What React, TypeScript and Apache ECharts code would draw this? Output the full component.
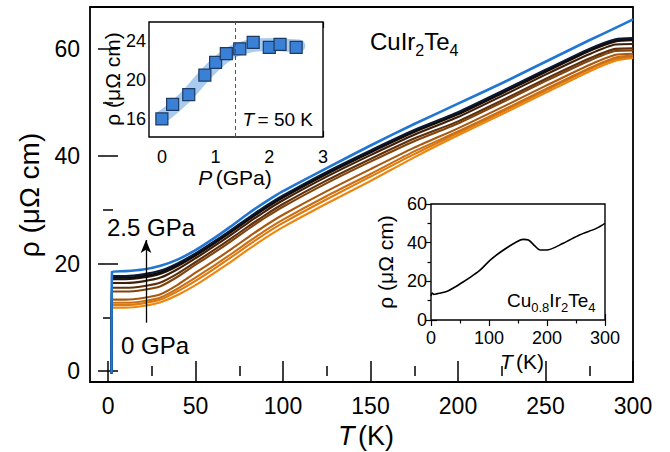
import React, { useEffect, useRef } from 'react';
import * as echarts from 'echarts';

const FONT = '"Liberation Sans", Arial, Helvetica, sans-serif';

// ---------- Main panel: rho(T) of CuIr2Te4 under pressure ----------
const T_MAIN = [2.3, 10, 20, 30, 40, 50, 60, 70, 80, 90, 100, 125, 150, 175, 200, 225, 250, 275, 290, 300];
const SC_T = 2.0;      // superconducting drop temperature (K)
const SC_RHO = -0.4;   // resistivity below Tc
const PRESSURES = ['0', '0.2', '0.5', '0.8', '1.0', '1.2', '1.45', '1.7', '2.0', '2.2', '2.5'];
const RHO_P00 = [11.8, 11.8, 12.1, 12.8, 14.2, 16.0, 18.1, 20.3, 22.6, 24.8, 26.8, 31.2, 35.4, 39.8, 43.9, 47.8, 51.8, 55.8, 57.8, 58.3];
const RHO_P02 = [12.3, 12.3, 12.6, 13.3, 14.9, 16.8, 18.9, 21.1, 23.4, 25.6, 27.6, 32.0, 36.2, 40.4, 44.3, 48.2, 52.2, 56.2, 58.1, 58.5];
const RHO_P05 = [12.7, 12.7, 13.0, 13.7, 15.4, 17.4, 19.5, 21.7, 24.0, 26.2, 28.2, 32.6, 36.7, 40.9, 44.6, 48.5, 52.5, 56.4, 58.4, 58.7];
const RHO_P08 = [13.3, 13.3, 13.6, 14.3, 16.1, 18.3, 20.4, 22.6, 24.9, 27.1, 29.1, 33.5, 37.6, 41.6, 45.2, 49.1, 53.1, 57.0, 58.9, 59.1];
const RHO_P10 = [14.8, 14.8, 15.1, 15.8, 17.6, 19.8, 21.9, 24.1, 26.4, 28.6, 30.6, 35.0, 39.0, 42.8, 46.1, 50.0, 54.0, 57.8, 59.6, 59.7];
const RHO_P12 = [15.5, 15.5, 15.8, 16.5, 18.2, 20.3, 22.4, 24.6, 26.9, 29.1, 31.1, 35.5, 39.5, 43.3, 46.5, 50.4, 54.4, 58.2, 60.0, 60.1];
const RHO_P145 = [16.4, 16.4, 16.7, 17.4, 19.0, 21.0, 23.1, 25.3, 27.6, 29.8, 31.8, 36.2, 40.2, 44.0, 47.3, 51.2, 55.2, 59.0, 60.8, 60.9];
const RHO_P17 = [17.1, 17.1, 17.4, 18.1, 19.6, 21.5, 23.6, 25.8, 28.1, 30.3, 32.3, 36.7, 40.7, 44.5, 47.8, 51.7, 55.7, 59.6, 61.4, 61.6];
const RHO_P20 = [17.4, 17.4, 17.7, 18.4, 19.9, 21.7, 23.8, 26.0, 28.3, 30.5, 32.5, 36.9, 40.9, 44.7, 48.0, 51.9, 55.9, 59.8, 61.6, 61.8];
const RHO_P22 = [17.7, 17.7, 18.0, 18.7, 20.1, 21.9, 24.0, 26.2, 28.5, 30.7, 32.7, 37.1, 41.1, 44.9, 48.2, 52.1, 56.1, 60.0, 61.8, 62.0];
const RHO_P25 = [18.5, 18.6, 18.9, 19.6, 20.8, 22.5, 24.6, 26.9, 29.3, 31.5, 33.5, 37.8, 42.0, 46.0, 49.8, 53.6, 57.6, 61.6, 63.9, 65.5];
const MAIN_SERIES = [RHO_P00, RHO_P02, RHO_P05, RHO_P08, RHO_P10, RHO_P12, RHO_P145, RHO_P17, RHO_P20, RHO_P22, RHO_P25];

const MAIN_X_TICKS = [0, 50, 100, 150, 200, 250, 300];
const MAIN_X_MINOR = [25, 75, 125, 175, 225, 275];
const MAIN_Y_TICKS = [0, 20, 40, 60];
const MAIN_Y_MINOR = [10, 30, 50];

// arrow "0 GPa -> 2.5 GPa"
const ARROW_T = 21.7;
const ARROW_FROM = 9.0;
const ARROW_TO = 24.4;

// ---------- Inset 1: rho(50 K) vs P ----------
const P_GPA = [0, 0.2, 0.5, 0.8, 1.0, 1.2, 1.45, 1.7, 2.0, 2.2, 2.5];
const RHO_50K = [16.0, 17.5, 18.5, 20.5, 21.8, 22.7, 23.2, 23.85, 23.35, 23.65, 23.35];
const BAND_P = [0, 0.25, 0.5, 0.75, 1.0, 1.25, 1.5, 1.75, 2.0, 2.25, 2.55];
const BAND_RHO = [16.2, 17.3, 18.6, 20.2, 21.6, 22.7, 23.3, 23.6, 23.65, 23.6, 23.5];
const P_CRIT = 1.37;
const IN1_X_TICKS = [0, 1, 2, 3];
const IN1_X_MINOR = [0.5, 1.5, 2.5];
const IN1_Y_TICKS = [16, 20, 24];
const IN1_Y_MINOR = [18, 22];

// ---------- Inset 2: Cu0.8Ir2Te4 ----------
const T_CU = [0, 2, 5, 10, 27, 40, 56, 70, 85, 102, 125, 148, 159, 168, 179, 188, 199, 228, 256, 285, 300];
const RHO_CU = [12.5, 14.0, 13.2, 13.5, 14.7, 16.8, 19.8, 22.6, 25.9, 31.0, 36.2, 40.5, 41.7, 41.4, 38.3, 36.2, 36.2, 39.7, 44.0, 47.4, 50.0];
const IN2_X_TICKS = [0, 100, 200, 300];
const IN2_X_MINOR = [50, 150, 250];
const IN2_Y_TICKS = [0, 20, 40, 60];
const IN2_Y_MINOR = [10, 30, 50];

// styles
const CURVE_COLORS = ['#ec860f', '#dc7b10', '#c96e12', '#a8580f', '#82440d', '#60300a', '#3f1f07', '#221106', '#0d0a0a', '#0b1830', '#2176d2'];

function axis(
  grid: number, min: number, max: number, position: string, values: number[], len: number, w: number,
  label?: { fontSize: number; margin: number }
) {
  return {
    type: 'value', gridIndex: grid, min, max, position,
    axisLine: { show: false }, splitLine: { show: false },
    axisTick: { show: true, inside: true, length: len, customValues: values, lineStyle: { color: '#000', width: w } },
    axisLabel: label
      ? { show: true, customValues: values, fontSize: label.fontSize, fontFamily: FONT, color: '#000', margin: label.margin }
      : { show: false },
  };
}

function buildOption() {
  const mainX = { min: -10.3, max: 300 };
  const mainY = { min: -2.05, max: 67.8 };
  const in1X = { min: -0.24, max: 3 };
  const in1Y = { min: 14.15, max: 25.95 };
  const in2X = { min: 0, max: 300 };
  const in2Y = { min: 0, max: 60 };

  const xAxis = [
    axis(0, mainX.min, mainX.max, 'bottom', MAIN_X_TICKS, 10, 1.5, { fontSize: 23, margin: 12 }),
    axis(0, mainX.min, mainX.max, 'bottom', MAIN_X_MINOR, 5, 1.5),
    axis(0, mainX.min, mainX.max, 'top', MAIN_X_TICKS, 10, 1.5),
    axis(0, mainX.min, mainX.max, 'top', MAIN_X_MINOR, 5, 1.5),
    axis(1, in1X.min, in1X.max, 'bottom', IN1_X_TICKS, 6, 1.2, { fontSize: 18, margin: 11 }),
    axis(1, in1X.min, in1X.max, 'bottom', IN1_X_MINOR, 3.5, 1.2),
    axis(1, in1X.min, in1X.max, 'top', IN1_X_TICKS, 6, 1.2),
    axis(1, in1X.min, in1X.max, 'top', IN1_X_MINOR, 3.5, 1.2),
    axis(2, in2X.min, in2X.max, 'bottom', IN2_X_TICKS, 6, 1.2, { fontSize: 18, margin: 9 }),
    axis(2, in2X.min, in2X.max, 'bottom', IN2_X_MINOR, 3.5, 1.2),
    axis(2, in2X.min, in2X.max, 'top', IN2_X_TICKS, 6, 1.2),
    axis(2, in2X.min, in2X.max, 'top', IN2_X_MINOR, 3.5, 1.2),
  ];
  const yAxis = [
    axis(0, mainY.min, mainY.max, 'left', MAIN_Y_TICKS, 10, 1.5, { fontSize: 23, margin: 10 }),
    axis(0, mainY.min, mainY.max, 'left', MAIN_Y_MINOR, 5, 1.5),
    axis(0, mainY.min, mainY.max, 'right', MAIN_Y_TICKS, 10, 1.5),
    axis(0, mainY.min, mainY.max, 'right', MAIN_Y_MINOR, 5, 1.5),
    axis(1, in1Y.min, in1Y.max, 'left', IN1_Y_TICKS, 6, 1.2, { fontSize: 18, margin: 3 }),
    axis(1, in1Y.min, in1Y.max, 'left', IN1_Y_MINOR, 3.5, 1.2),
    axis(1, in1Y.min, in1Y.max, 'right', IN1_Y_TICKS, 6, 1.2),
    axis(1, in1Y.min, in1Y.max, 'right', IN1_Y_MINOR, 3.5, 1.2),
    axis(2, in2Y.min, in2Y.max, 'left', IN2_Y_TICKS, 6, 1.2, { fontSize: 18, margin: 4 }),
    axis(2, in2Y.min, in2Y.max, 'left', IN2_Y_MINOR, 3.5, 1.2),
    axis(2, in2Y.min, in2Y.max, 'right', IN2_Y_TICKS, 6, 1.2),
    axis(2, in2Y.min, in2Y.max, 'right', IN2_Y_MINOR, 3.5, 1.2),
  ];

  const mainSeries: any[] = MAIN_SERIES.map((vals, k) => ({
    type: 'line',
    name: PRESSURES[k] + ' GPa',
    xAxisIndex: 0, yAxisIndex: 0,
    data: [[SC_T, SC_RHO], ...T_MAIN.map((t, i) => [t, vals[i]])],
    showSymbol: false,
    smooth: 0.2,
    lineStyle: { color: CURVE_COLORS[k], width: k === MAIN_SERIES.length - 1 ? 2.6 : 2.1, join: 'round' },
    z: 2,
    markLine: k === 0 ? {
      silent: true,
      symbol: ['none', 'arrow'],
      symbolSize: [8, 13],
      label: { show: false },
      lineStyle: { color: '#000', width: 1.3, type: 'solid' },
      itemStyle: { color: '#000' },
      data: [[{ coord: [ARROW_T, ARROW_FROM] }, { coord: [ARROW_T, ARROW_TO] }]],
    } : undefined,
  }));

  const series: any[] = [
    ...mainSeries,
    {
      type: 'line', xAxisIndex: 4, yAxisIndex: 4,
      data: BAND_P.map((p, i) => [p, BAND_RHO[i]]),
      showSymbol: false, smooth: 0.4,
      lineStyle: { color: '#a9cbee', width: 13, cap: 'round', join: 'round' },
      z: 3,
      markLine: {
        silent: true, symbol: ['none', 'none'], label: { show: false },
        lineStyle: { color: '#555', width: 1, type: [4, 3] },
        data: [{ xAxis: P_CRIT }],
      },
    },
    {
      type: 'scatter', xAxisIndex: 4, yAxisIndex: 4,
      data: P_GPA.map((p, i) => [p, RHO_50K[i]]),
      symbol: 'rect', symbolSize: 12,
      itemStyle: { color: '#3a80d6', borderColor: '#1d3a62', borderWidth: 1.2, opacity: 1 },
      z: 4,
    },
    {
      type: 'line', xAxisIndex: 8, yAxisIndex: 8,
      data: T_CU.map((t, i) => [t, RHO_CU[i]]),
      showSymbol: false, smooth: 0.3,
      lineStyle: { color: '#000', width: 1.6 },
      z: 3,
    },
  ];

  const txt = (x: number, y: number, text: string, size: number, extra: any = {}) => ({
    type: 'text', x, y, z: 10, ...extra,
    style: { text, fontSize: size, fontFamily: FONT, fill: '#000', align: 'center', verticalAlign: 'middle', ...(extra.style || {}) },
  });
  const italicT = (size: number) => ({
    i: { fontStyle: 'italic', fontSize: size, fontFamily: FONT, fill: '#000' },
    n: { fontSize: size, fontFamily: FONT, fill: '#000' },
  });
  const formula = (main: number, sub: number, pad: number) => ({
    m: { fontSize: main, lineHeight: main, fontFamily: FONT, fill: '#000', verticalAlign: 'top' },
    s: { fontSize: sub, lineHeight: sub, fontFamily: FONT, fill: '#000', verticalAlign: 'top', padding: [pad, 0, 0, 0] },
  });

  const graphic = [
    txt(29, 195, 'ρ (μΩ cm)', 28, { rotation: Math.PI / 2 }),
    { type: 'text', x: 366, y: 436, z: 10, style: { text: '{i|T} {n|(K)}', rich: italicT(27), align: 'center', verticalAlign: 'middle' } },
    { type: 'text', x: 370, y: 29, z: 10, style: { text: '{m|CuIr}{s|2}{m|Te}{s|4}', rich: formula(24, 16, 13), align: 'left', verticalAlign: 'top' } },
    txt(107, 227, '2.5 GPa', 24, { style: { align: 'left' } }),
    txt(121, 345, '0 GPa', 24, { style: { align: 'left' } }),
    txt(112, 79, 'ρ (μΩ cm)', 21, { rotation: Math.PI / 2 }),
    { type: 'text', x: 235, y: 177, z: 10, style: { text: '{i|P} {n|(GPa)}', rich: italicT(21), align: 'center', verticalAlign: 'middle' } },
    { type: 'text', x: 313, y: 119, z: 10, style: { text: '{i|T} {n|= 50 K}', rich: italicT(19), align: 'right', verticalAlign: 'middle' } },
    txt(385, 262, 'ρ (μΩ cm)', 21, { rotation: Math.PI / 2 }),
    { type: 'text', x: 522, y: 361, z: 10, style: { text: '{i|T} {n|(K)}', rich: italicT(21), align: 'center', verticalAlign: 'middle' } },
    { type: 'text', x: 507, y: 291, z: 10, style: { text: '{m|Cu}{s|0.8}{m|Ir}{s|2}{m|Te}{s|4}', rich: formula(19, 13, 10), align: 'left', verticalAlign: 'top' } },
  ];

  return {
    animation: false,
    backgroundColor: '#fff',
    grid: [
      { left: 90, right: 37, top: 7, bottom: 70, show: true, borderColor: '#000', borderWidth: 1.8, backgroundColor: 'transparent' },
      { left: 149, top: 22, width: 174, height: 115, show: true, borderColor: '#000', borderWidth: 1.4, backgroundColor: '#fff', z: 1 },
      { left: 431, top: 204, width: 174, height: 116, show: true, borderColor: '#000', borderWidth: 1.4, backgroundColor: '#fff', z: 1 },
    ],
    xAxis, yAxis, series, graphic,
  };
}

export default function App() {
  const ref = useRef<HTMLDivElement>(null);
  useEffect(() => {
    const chart = echarts.init(ref.current!, null, { renderer: 'svg' });
    chart.setOption(buildOption() as any);
    return () => chart.dispose();
  }, []);
  return <div ref={ref} style={{ position: 'fixed', left: 0, top: 0, width: 670, height: 452, background: '#fff' }} />;
}
